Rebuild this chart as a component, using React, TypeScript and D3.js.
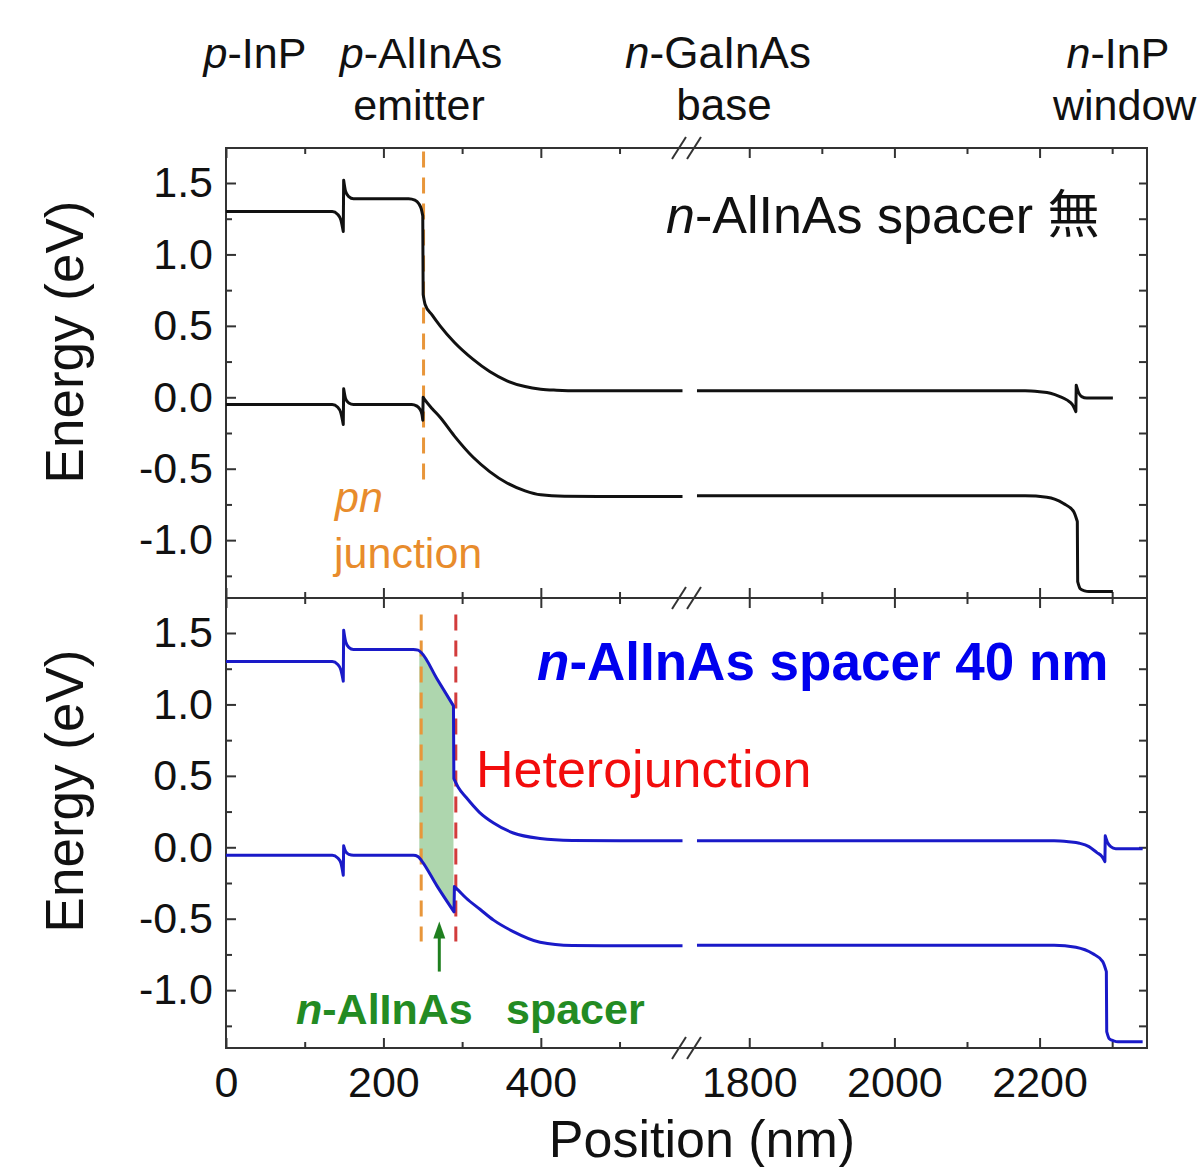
import React, { useEffect, useRef } from "react";
import * as d3 from "d3";

type Pt = [number, number];

// axis ticks
const xTicksLeft = [0, 200, 400];
const xMinorLeft = [100, 300, 500];
const xTicksRight = [1800, 2000, 2200];
const xMinorRight = [1900, 2100, 2300];
const yTicks = [-1.0, -0.5, 0, 0.5, 1.0, 1.5];
const yMinor = [-1.25, -0.75, -0.25, 0.25, 0.75, 1.25];

// top panel: no spacer (black)
const cbTopLeft: Pt[] = [
  [0, 1.30], [135, 1.30], [142, 1.28], [146, 1.24], [149, 1.16], [149.5, 1.52], [152, 1.44],
  [156, 1.405], [162, 1.39], [232, 1.39], [240, 1.38], [245, 1.355], [248, 1.32], [250, 1.27],
  [250.5, 0.72], [253, 0.65], [262, 0.575], [272, 0.50], [290, 0.385], [314, 0.265], [335, 0.18],
  [357, 0.115], [380, 0.075], [400, 0.057], [420, 0.05], [450, 0.046], [580, 0.045],
];
const cbTopRight: Pt[] = [
  [1728, 0.045], [2180, 0.045], [2200, 0.038], [2215, 0.028], [2228, 0.005], [2238, -0.02],
  [2245, -0.05], [2250, -0.10], [2250.5, 0.085], [2254, 0.03], [2258, 0.005], [2265, -0.005],
  [2301, -0.005],
];
const vbTopLeft: Pt[] = [
  [0, -0.05], [135, -0.05], [142, -0.07], [146, -0.11], [149, -0.19], [149.5, 0.06], [152, -0.01],
  [156, -0.04], [162, -0.05], [236, -0.05], [242, -0.06], [246, -0.08], [249, -0.12], [250, -0.16],
  [250.5, 0.0], [253, -0.02], [262, -0.08], [272, -0.14], [290, -0.27], [314, -0.42], [335, -0.52],
  [357, -0.60], [380, -0.655], [400, -0.683], [430, -0.693], [480, -0.695], [580, -0.695],
];
const vbTopRight: Pt[] = [
  [1728, -0.69], [2180, -0.69], [2210, -0.70], [2233, -0.744], [2247, -0.80], [2252, -0.87],
  [2252.5, -1.29], [2256, -1.34], [2262, -1.355], [2268, -1.36], [2301, -1.36],
];

// bottom panel: 40 nm spacer (blue)
const cbBotLeft: Pt[] = [
  [0, 1.30], [135, 1.30], [142, 1.28], [146, 1.24], [149, 1.163], [149.5, 1.52], [152, 1.44],
  [156, 1.40], [162, 1.385], [238, 1.385], [244, 1.38], [248.6, 1.36], [268, 1.18], [289, 0.99],
  [289.5, 0.48], [295, 0.42], [305, 0.35], [322, 0.245], [340, 0.17], [365, 0.10], [399, 0.062],
  [440, 0.048], [500, 0.045], [580, 0.045],
];
const cbBotRight: Pt[] = [
  [1728, 0.045], [2220, 0.045], [2240, 0.038], [2255, 0.028], [2268, 0.005], [2279, -0.037],
  [2286, -0.065], [2290, -0.10], [2290.5, 0.08], [2294, 0.03], [2298, 0.005], [2305, -0.01],
  [2342, -0.01],
];
const vbBotLeft: Pt[] = [
  [0, -0.056], [135, -0.056], [142, -0.075], [146, -0.11], [149, -0.196], [149.5, 0.01],
  [152, -0.03], [156, -0.05], [162, -0.056], [238, -0.056], [244, -0.065], [248.6, -0.095],
  [268, -0.27], [289.7, -0.452], [290.2, -0.275], [295, -0.30], [305, -0.355], [322.7, -0.434],
  [340, -0.51], [365, -0.59], [399, -0.665], [440, -0.688], [480, -0.69], [580, -0.69],
];
const vbBotRight: Pt[] = [
  [1728, -0.685], [2220, -0.685], [2250, -0.70], [2273, -0.744], [2287, -0.80], [2292, -0.87],
  [2292.5, -1.29], [2296, -1.34], [2302, -1.355], [2308, -1.362], [2342, -1.362],
];

// spacer region (shaded)
const spacerTop: Pt[] = [[245.6, 1.37], [248.6, 1.36], [289, 0.99]];
const spacerBottom: Pt[] = [[289, -0.445], [248.6, -0.095], [245.6, -0.07]];

// junction markers (nm)
const pnTop = 251;
const pnBottom = 248;
const heteroBottom = 292;
const arrowAt = 271;

const FONT = "'Liberation Sans', Arial, Helvetica, 'Noto Sans CJK JP', sans-serif";

const App = () => {
  const ref = useRef<SVGSVGElement>(null);

  useEffect(() => {
    const svg = d3.select(ref.current);
    svg.selectAll("*").remove();

    const L = 226, R = 1147, T1 = 148, M = 598, B2 = 1048;
    const xL = d3.scaleLinear().domain([0, 580]).range([L, 682.5]);
    const xR = d3.scaleLinear().domain([1717, 2348]).range([689, R]);
    const yTop = d3.scaleLinear().domain([-1.405, 1.745]).range([M, T1]);
    const yBot = d3.scaleLinear().domain([-1.405, 1.745]).range([B2, M]);

    const fmt = (d: any) => (+d).toFixed(1);

    const styleAxis = (g: any, size = 43) => {
      g.select(".domain").remove();
      g.attr("font-family", FONT).attr("font-size", size);
      g.selectAll("line").attr("stroke", "#333").attr("stroke-width", 2);
      g.selectAll("text").attr("fill", "#111");
    };

    // smooth pieces, joined by straight vertical steps at abrupt band offsets
    const bandPath = (data: Pt[], xs: any, y: any) => {
      const runs: Pt[][] = [];
      data.forEach((d, k) => {
        if (k === 0 || d[0] - data[k - 1][0] < 1) runs.push([d]);
        else runs[runs.length - 1].push(d);
      });
      const line = d3.line<Pt>().x(d => xs(d[0])).y(d => y(d[1])).curve(d3.curveMonotoneX);
      return runs.map((r, k) => {
        const s = line(r) || "";
        return k === 0 ? s : s.replace(/^M/, "L");
      }).join("");
    };

    const panels = [
      { y: yTop, top: T1, bot: M, cb: [cbTopLeft, cbTopRight], vb: [vbTopLeft, vbTopRight], color: "#111" },
      { y: yBot, top: M, bot: B2, cb: [cbBotLeft, cbBotRight], vb: [vbBotLeft, vbBotRight], color: "#1a1ac8" },
    ];

    panels.forEach((p, i) => {
      // left axis
      svg.append("g").attr("transform", `translate(${L},0)`)
        .call(d3.axisLeft(p.y).tickValues(yTicks).tickSize(-10).tickPadding(13).tickFormat(fmt))
        .call(styleAxis);
      svg.append("g").attr("transform", `translate(${L},0)`)
        .call(d3.axisLeft(p.y).tickValues(yMinor).tickSize(-6).tickFormat(() => ""))
        .call(styleAxis);
      // right axis
      svg.append("g").attr("transform", `translate(${R},0)`)
        .call(d3.axisRight(p.y).tickValues([...yTicks, ...yMinor]).tickSize(-8).tickFormat(() => ""))
        .call(styleAxis);

      [[xL, xTicksLeft, xMinorLeft], [xR, xTicksRight, xMinorRight]].forEach(([xs, maj, min]: any) => {
        // top edge ticks (pointing down)
        svg.append("g").attr("transform", `translate(0,${p.top})`)
          .call(d3.axisTop(xs).tickValues(maj).tickSize(-10).tickFormat(() => ""))
          .call(styleAxis);
        svg.append("g").attr("transform", `translate(0,${p.top})`)
          .call(d3.axisTop(xs).tickValues(min).tickSize(-6).tickFormat(() => ""))
          .call(styleAxis);
        // bottom edge ticks (pointing up)
        svg.append("g").attr("transform", `translate(0,${p.bot})`)
          .call(d3.axisBottom(xs).tickValues(maj).tickSize(-10).tickPadding(18)
            .tickFormat(i === 1 ? (d: any) => String(d) : () => ""))
          .call(styleAxis);
        svg.append("g").attr("transform", `translate(0,${p.bot})`)
          .call(d3.axisBottom(xs).tickValues(min).tickSize(-6).tickFormat(() => ""))
          .call(styleAxis);
      });

      // frame
      svg.append("rect")
        .attr("x", L).attr("y", p.top).attr("width", R - L).attr("height", p.bot - p.top)
        .attr("fill", "none").attr("stroke", "#333").attr("stroke-width", 2);

      // spacer shading
      if (i === 1) {
        const poly = d3.line<Pt>().x(d => xL(d[0])).y(d => p.y(d[1])).curve(d3.curveLinearClosed);
        svg.append("path").attr("d", poly([...spacerTop, ...spacerBottom]))
          .attr("fill", "#aed6ae").attr("stroke", "none");
      }

      // dashed junction lines
      const dash = (x: number, c: string) =>
        svg.append("line")
          .attr("x1", xL(x)).attr("x2", xL(x))
          .attr("y1", p.y(i === 0 ? 1.72 : 1.63)).attr("y2", p.y(i === 0 ? -0.59 : -0.66))
          .attr("stroke", c).attr("stroke-width", 3).attr("stroke-dasharray", "16,10");
      if (i === 0) dash(pnTop, "#e8963a");
      else {
        dash(pnBottom, "#e8963a");
        dash(heteroBottom, "#d23c3c");
      }

      // band curves
      [p.cb, p.vb].forEach(([left, right]) => {
        [[left, xL], [right, xR]].forEach(([data, xs]: any) => {
          svg.append("path").attr("d", bandPath(data, xs, p.y)).attr("fill", "none")
            .attr("stroke", p.color).attr("stroke-width", 3).attr("stroke-linejoin", "round");
        });
      });
    });

    // axis break marks
    [T1, M, B2].forEach(yy => {
      [679, 694].forEach(cx => {
        svg.append("line")
          .attr("x1", cx - 7).attr("y1", yy + 11).attr("x2", cx + 7).attr("y2", yy - 11)
          .attr("stroke", "#333").attr("stroke-width", 2);
      });
    });

    // spacer arrow
    const ax = xL(arrowAt);
    const tip = yBot(-0.52);
    svg.append("line").attr("x1", ax).attr("x2", ax).attr("y1", yBot(-0.87)).attr("y2", tip + 12)
      .attr("stroke", "#1f7f1f").attr("stroke-width", 3);
    svg.append("path")
      .attr("d", `M${ax},${tip} L${ax - 6},${tip + 17} L${ax + 6},${tip + 17} Z`)
      .attr("fill", "#1f7f1f");

    // texts
    const txt = (x: number, y: number, parts: [string, boolean][], opts: any = {}) => {
      const t = svg.append("text").attr("x", x).attr("y", y)
        .attr("font-family", FONT).attr("font-size", opts.size || 43)
        .attr("fill", opts.color || "#111")
        .attr("font-weight", opts.bold ? "bold" : "normal")
        .attr("text-anchor", opts.anchor || "start");
      if (opts.rotate) t.attr("transform", `rotate(-90,${x},${y})`);
      parts.forEach(([s, it]) => t.append("tspan").attr("font-style", it ? "italic" : "normal").text(s));
      return t;
    };

    txt(255, 68, [["p", true], ["-InP", false]], { anchor: "middle" });
    txt(421, 68, [["p", true], ["-AlInAs", false]], { anchor: "middle" });
    txt(419, 120, [["emitter", false]], { anchor: "middle" });
    txt(718, 68, [["n", true], ["-GaInAs", false]], { anchor: "middle", size: 44 });
    txt(724, 120, [["base", false]], { anchor: "middle", size: 44 });
    txt(1118, 68, [["n", true], ["-InP", false]], { anchor: "middle" });
    txt(1053, 120, [["window", false]], {});

    txt(666, 233, [["n", true], ["-AlInAs spacer 無", false]], { size: 52 });
    txt(335, 512, [["pn", true]], { color: "#e88c2c" });
    txt(334, 568, [["junction", false]], { color: "#e88c2c" });
    txt(537, 680, [["n", true], ["-AlInAs spacer 40 nm", false]], { size: 53, bold: true, color: "#0000ee" });
    txt(476, 787, [["Heterojunction", false]], { size: 52, color: "#f20c0c" });
    const g = txt(296, 1024, [["n", true], ["-AlInAs", false]], { bold: true, color: "#238b23" });
    g.append("tspan").attr("x", 506).text("spacer");

    txt(83, 342, [["Energy (eV)", false]], { anchor: "middle", size: 53, rotate: true });
    txt(83, 791, [["Energy (eV)", false]], { anchor: "middle", size: 53, rotate: true });
    txt(702, 1157, [["Position (nm)", false]], { anchor: "middle", size: 52 });
  }, []);

  return (
    <svg ref={ref} width={1198} height={1167}
      style={{ position: "absolute", left: 0, top: 0, background: "#fff" }} />
  );
};

export default App;
